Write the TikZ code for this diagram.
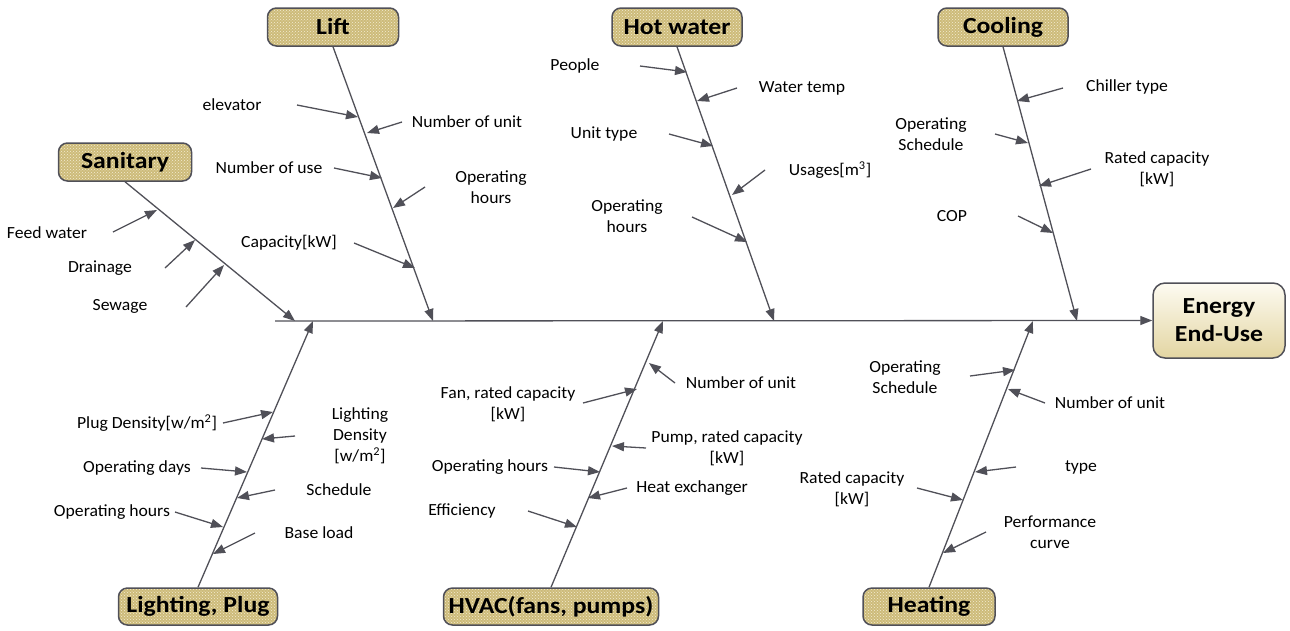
\documentclass[tikz,border=0pt]{standalone}
\usepackage{fontspec}
\setmainfont{Carlito}[FakeStretch=1.04]
\newfontfamily\catfont{Carlito}[FakeStretch=1.12]
\usetikzlibrary{arrows.meta,patterns}
\definecolor{linegray}{HTML}{505058}
\definecolor{gold}{HTML}{CDBB7A}
\definecolor{goldlight}{HTML}{F4EDD2}
\definecolor{etop}{HTML}{FDFBF1}
\definecolor{ebot}{HTML}{E3D5A2}
\tikzset{
  cat/.style={draw=linegray, line width=1.5pt, rounded corners=9pt,
    minimum height=38pt, preaction={fill=gold}, pattern=crosshatch dots,
    pattern color=goldlight, font=\catfont\bfseries\fontsize{23}{25}\selectfont, inner sep=0pt},
  lbl/.style={font=\fontsize{17}{21}\selectfont, align=center, inner sep=0pt},
  arr/.style={draw=linegray, line width=1.3pt, -{Triangle[length=12pt,width=9pt]}},
  endbox/.style={draw=linegray, line width=1.5pt, rounded corners=12pt,
    minimum width=132pt, minimum height=75pt, top color=etop, bottom color=ebot,
    align=center, font=\catfont\bfseries\fontsize{23}{28}\selectfont, inner sep=0pt}
}
\begin{document}
\begin{tikzpicture}[x=1pt,y=-1pt]
\useasboundingbox (0,0) rectangle (1290,630);
% category boxes
\node[cat, minimum width=131pt] (lift) at (333,27) {Lift};
\node[cat, minimum width=130pt] (hot) at (677,27) {Hot water};
\node[cat, minimum width=130pt] (cool) at (1003,27) {Cooling};
\node[cat, minimum width=133pt] (san) at (125,162) {Sanitary};
\node[cat, minimum width=159pt, minimum height=37pt] (light) at (198,606.5) {Lighting, Plug};
\node[cat, minimum width=215pt, minimum height=37pt] (hvac) at (551,606.5) {HVAC(fans, pumps)};
\node[cat, minimum width=132pt, minimum height=37pt] (heat) at (929,606.5) {Heating};
\node[endbox] (energy) at (1219,320.5) {Energy\\End-Use};
% spine
\coordinate (spst) at (275,321);
\draw[arr] (spst) -- (energy.west);
% bone ends
\coordinate (liftE) at (433,321);
\coordinate (hotE) at (774,321);
\coordinate (coolE) at (1077,321);
\coordinate (sanE) at (295,321);
\coordinate (lightE) at (313,321);
\coordinate (hvacE) at (663,321);
\coordinate (heatE) at (1033,321);
\draw[arr] (lift.south) -- (liftE);
\draw[arr] (hot.south) -- (hotE);
\draw[arr] (cool.south) -- (coolE);
\draw[arr] (san.south) -- (sanE);
\draw[arr] (light.north) -- (lightE);
\draw[arr] (hvac.north) -- (hvacE);
\draw[arr] (heat.north) -- (heatE);
% sub arrows
\foreach \n/\sx/\sy/\ex/\ey in {
  a1/113/232/157/210, a2/165/268/195/240, a3/186/307/224/265,
  b1/297/105/358/117, b2/402/122/367/133, b3/334/168/382/178, b4/425/187/393/208, b5/354/243/415/268,
  c1/640/66/687/72, c2/737/88/697/101, c3/669/134/713/146, c4/765/170/732/195, c5/692/217/747/242,
  d1/1063/88/1017/101, d2/995/134/1028/143, d3/1091/169/1039/186, d4/1018/216/1053/233,
  e1/223/423/273/412, e2/295/436/262/439, e3/201/468/247/472, e4/275/490/237/498, e5/175/512/223/527, e6/255/533/213/554,
  f1/675/383/649/363, f2/583/403/637/389, f3/646/448/612/446, f4/554/467/600/472, f5/627/488/588/498, f6/528/511/577/527,
  g1/970/376/1015/370, g2/1045/403/1008/389, g3/1016/467/975/472, g4/917/488/963/500, g5/986/532/943/553}
{
  \coordinate (s\n) at (\sx,\sy);
  \coordinate (e\n) at (\ex,\ey);
  \draw[arr] (s\n) -- (e\n);
}
% labels: sanitary
\node[lbl] (la1) at (47,233) {Feed water};
\node[lbl] (la2) at (100,268) {Drainage};
\node[lbl] (la3) at (120,306) {Sewage};
% lift
\node[lbl] (lb1) at (232,105) {elevator};
\node[lbl] (lb2) at (467,122) {Number of unit};
\node[lbl] (lb3) at (269,168) {Number of use};
\node[lbl] (lb4) at (491,187) {Operating\\hours};
\node[lbl] (lb5) at (289,243) {Capacity[kW]};
% hot water
\node[lbl] (lc1) at (575,66) {People};
\node[lbl] (lc2) at (802,88) {Water temp};
\node[lbl] (lc3) at (604,134) {Unit type};
\node[lbl] (lc4) at (830,170) {Usages[m\textsuperscript{3}]};
\node[lbl] (lc5) at (627,216) {Operating\\hours};
% cooling
\node[lbl] (ld1) at (1127,87) {Chiller type};
\node[lbl] (ld2) at (931,134) {Operating\\Schedule};
\node[lbl] (ld3) at (1157,169) {Rated capacity\\{}[kW]};
\node[lbl] (ld4) at (952,216) {COP};
% lighting
\node[lbl] (le1) at (147,423) {Plug Density[w/m\textsuperscript{2}]};
\node[lbl] (le2) at (360,436) {Lighting\\Density\\{}[w/m\textsuperscript{2}]};
\node[lbl] (le3) at (137,468) {Operating days};
\node[lbl] (le4) at (339,490) {Schedule};
\node[lbl] (le5) at (112,512) {Operating hours};
\node[lbl] (le6) at (319,533) {Base load};
% hvac
\node[lbl] (lf1) at (741,383) {Number of unit};
\node[lbl] (lf2) at (508,404) {Fan, rated capacity\\{}[kW]};
\node[lbl] (lf3) at (727,448) {Pump, rated capacity\\{}[kW]};
\node[lbl] (lf4) at (490,467) {Operating hours};
\node[lbl] (lf5) at (692,488) {Heat exchanger};
\node[lbl] (lf6) at (462,511) {Efficiency};
% heating
\node[lbl] (lg1) at (905,377) {Operating\\Schedule};
\node[lbl] (lg2) at (1110,403) {Number of unit};
\node[lbl] (lg3) at (1081,467) {type};
\node[lbl] (lg4) at (852,489) {Rated capacity\\{}[kW]};
\node[lbl] (lg5) at (1050,532) {Performance\\curve};
\end{tikzpicture}
\end{document}
